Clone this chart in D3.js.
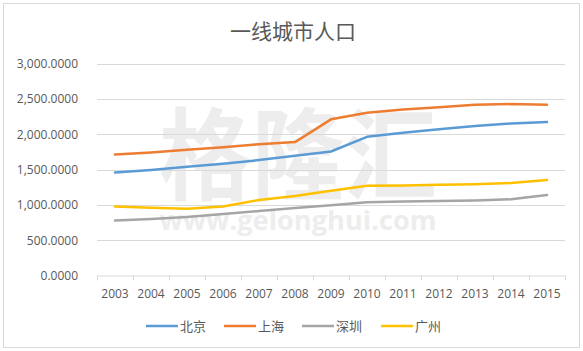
<!DOCTYPE html>
<html><head><meta charset="utf-8">
<script src="https://cdn.jsdelivr.net/npm/d3@7"></script>
<style>
body{margin:0;background:#fff;}
svg{display:block;font-family:"Noto Sans CJK SC","Open Sans",sans-serif;}
</style></head>
<body><div id="chart"></div>
<script>
const years = ["2003","2004","2005","2006","2007","2008","2009","2010","2011","2012","2013","2014","2015"];
const beijing  = [1456.4,1492.7,1538,1581,1633,1695,1755,1961.9,2018.6,2069.3,2114.8,2151.6,2170.5];
const shanghai = [1711,1742,1778,1815,1858,1888,2210,2302.7,2347.5,2380.4,2415.2,2425.7,2415.3];
const shenzhen = [778,800.8,827.8,871.1,912.4,954.3,995,1037.2,1046.7,1054.7,1062.9,1077.9,1137.9];
const guangzhou= [978,960,945,975,1068,1125,1200,1270,1275,1284,1293,1308,1350];
const seriesNames = ["北京","上海","深圳","广州"];
const seriesColors = ["#5B9BD5","#ED7D31","#A5A5A5","#FFC000"];
const yTicks = [0,500,1000,1500,2000,2500,3000];

const W=583,H=351;
const svg=d3.select("#chart").append("svg").attr("width",W).attr("height",H);
svg.append("rect").attr("x",3.5).attr("y",3.5).attr("width",W-7).attr("height",H-7)
  .attr("fill","#fff").attr("stroke","#d9d9d9");

const m={l:97,r:565,t:63.5,b:275.5};
const x=d3.scaleBand().domain(years).range([m.l,m.r]);
const y=d3.scaleLinear().domain([0,3000]).range([m.b,m.t]);

// watermark
const wm=svg.append("g").attr("fill","#ededed");
wm.append("text").attr("x",298).attr("y",192).attr("text-anchor","middle")
  .attr("font-size",100).attr("font-weight","bold").attr("textLength",278).attr("lengthAdjust","spacingAndGlyphs")
  .text("格隆汇");
wm.append("text").attr("x",298).attr("y",230).attr("text-anchor","middle")
  .attr("font-size",27).attr("font-weight","bold").attr("font-family","Open Sans, sans-serif")
  .attr("textLength",277).attr("lengthAdjust","spacingAndGlyphs")
  .text("www.gelonghui.com");

// title
svg.append("text").attr("x",293).attr("y",39).attr("text-anchor","middle")
  .attr("font-size",21).attr("fill","#595959").text("一线城市人口");

// gridlines
svg.append("g").selectAll("line").data(yTicks.filter(d=>d>0)).join("line")
  .attr("x1",m.l).attr("x2",m.r).attr("y1",d=>Math.round(y(d))+0.5).attr("y2",d=>Math.round(y(d))+0.5)
  .attr("stroke","#d9d9d9");

// y axis
const ya=svg.append("g").attr("transform",`translate(${m.l-16},0)`)
  .call(d3.axisLeft(y).tickValues(yTicks).tickSize(0).tickFormat(d=>d3.format(",.4f")(d)));
ya.select(".domain").remove();
ya.selectAll("text").attr("font-size",12).attr("fill","#595959").attr("font-family","Open Sans, sans-serif");

// x axis
const xa=svg.append("g").attr("transform",`translate(0,${m.b})`)
  .call(d3.axisBottom(x).tickSize(0).tickPadding(14));
xa.select(".domain").attr("stroke","#d9d9d9");
xa.selectAll("text").attr("font-size",12).attr("fill","#595959").attr("font-family","Open Sans, sans-serif");
const bnd=years.map(d=>x(d)).concat([m.r]);
xa.selectAll(".tk").data(bnd).join("line").attr("class","tk")
  .attr("x1",d=>Math.round(d)+0.5).attr("x2",d=>Math.round(d)+0.5).attr("y1",0).attr("y2",5).attr("stroke","#d9d9d9");

// lines
const allSeries=[beijing,shanghai,shenzhen,guangzhou];
const line=d3.line().x((d,i)=>x(years[i])+x.bandwidth()/2).y(d=>y(d)).curve(d3.curveLinear);
svg.append("g").selectAll("path").data(allSeries).join("path")
  .attr("d",line).attr("fill","none").attr("stroke",(d,i)=>seriesColors[i])
  .attr("stroke-width",2.5).attr("stroke-linecap","round").attr("stroke-linejoin","round");

// legend
const legX=[146,224,302,381];
const lg=svg.append("g").selectAll("g").data(seriesNames).join("g")
  .attr("transform",(d,i)=>`translate(${legX[i]},326)`);
lg.append("line").attr("x1",0).attr("x2",32).attr("stroke",(d,i)=>seriesColors[i]).attr("stroke-width",2.5);
lg.append("text").attr("x",34).attr("y",4.5).attr("font-size",13).attr("fill","#595959").text(d=>d);
</script></body></html>
